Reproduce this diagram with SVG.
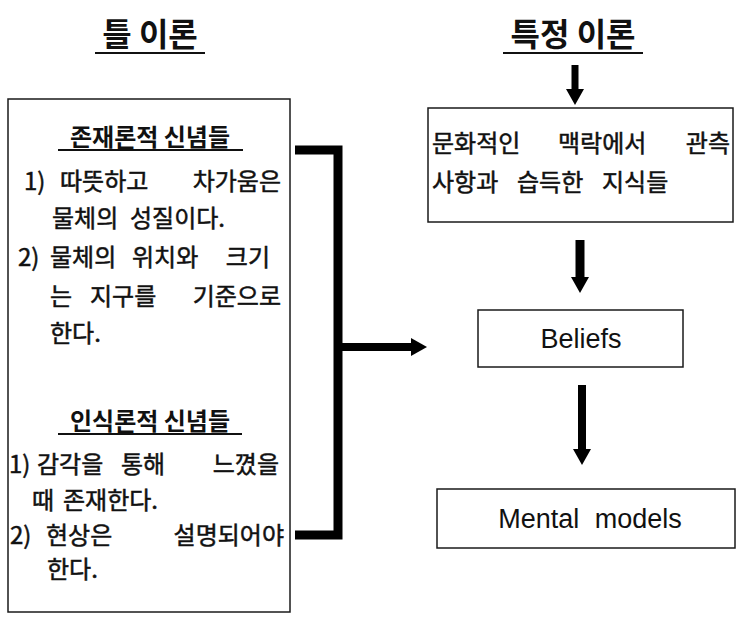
<svg xmlns="http://www.w3.org/2000/svg" width="736" height="623" viewBox="0 0 736 623">
<defs>
<style>
.box{fill:#fff;stroke:#1a1a1a;stroke-width:1.5}
.kr{font-family:"Noto Sans CJK KR","Noto Sans",sans-serif;fill:#111}
.body{font-size:24px;font-weight:normal;stroke:#111;stroke-width:0.5}
.sub{font-size:24px;font-weight:bold}
.head{font-size:32px;font-weight:bold}
.en{font-family:"Liberation Sans",Arial,sans-serif;font-size:27px;fill:#111}
.ul{stroke:#111;stroke-width:2}
.con{stroke:#000;fill:none;stroke-linejoin:miter;stroke-linecap:butt}
</style>
<marker id="ah" markerUnits="userSpaceOnUse" markerWidth="20" markerHeight="22" refX="0" refY="11" orient="auto">
<path d="M0,2 L16,11 L0,20 z" fill="#000"/>
</marker>
</defs>
<rect width="736" height="623" fill="#fff"/>

<g id="title-frame">
<text class="kr head" x="150" y="46" text-anchor="middle">틀 이론</text>
<line class="ul" x1="95" y1="53" x2="205" y2="53"/>
</g>
<g id="title-specific">
<text class="kr head" x="573" y="46" text-anchor="middle">특정 이론</text>
<line class="ul" x1="503" y1="53" x2="643" y2="53"/>
</g>

<g id="frame-beliefs">
<rect class="box" x="8" y="99" width="282" height="513"/>
<text class="kr sub" x="150" y="146" text-anchor="middle">존재론적 신념들</text>
<line class="ul" x1="58" y1="150" x2="243" y2="150"/>
<text class="kr body" y="190"><tspan x="24">1)</tspan><tspan x="60">따뜻하고</tspan></text>
<text class="kr body" x="281" y="190" text-anchor="end">차가움은</text>
<text class="kr body" y="227"><tspan x="52">물체의</tspan><tspan x="130">성질이다.</tspan></text>
<text class="kr body" y="266"><tspan x="18">2)</tspan><tspan x="50">물체의</tspan><tspan x="132">위치와</tspan></text>
<text class="kr body" x="270" y="266" text-anchor="end">크기</text>
<text class="kr body" y="305"><tspan x="50">는</tspan><tspan x="90">지구를</tspan></text>
<text class="kr body" x="281" y="305" text-anchor="end">기준으로</text>
<text class="kr body" x="50" y="342">한다.</text>

<text class="kr sub" x="150" y="430" text-anchor="middle">인식론적 신념들</text>
<line class="ul" x1="58" y1="434" x2="242" y2="434"/>
<text class="kr body" y="473"><tspan x="9">1)</tspan><tspan x="37">감각을</tspan><tspan x="121">통해</tspan></text>
<text class="kr body" x="279" y="473" text-anchor="end">느꼈을</text>
<text class="kr body" y="509"><tspan x="32">때</tspan><tspan x="63">존재한다.</tspan></text>
<text class="kr body" y="544"><tspan x="10">2)</tspan><tspan x="46">현상은</tspan></text>
<text class="kr body" x="284" y="544" text-anchor="end">설명되어야</text>
<text class="kr body" x="47" y="578">한다.</text>
</g>

<g id="cultural-knowledge">
<rect class="box" x="428" y="108" width="305" height="114"/>
<text class="kr body" y="152"><tspan x="432">문화적인</tspan><tspan x="558">맥락에서</tspan></text>
<text class="kr body" x="730" y="152" text-anchor="end">관측</text>
<text class="kr body" y="191"><tspan x="432">사항과</tspan><tspan x="517">습득한</tspan><tspan x="602">지식들</tspan></text>
</g>

<g id="beliefs">
<rect class="box" x="478" y="310" width="205" height="57"/>
<text class="en" x="581" y="348" text-anchor="middle">Beliefs</text>
</g>

<g id="mental-models">
<rect class="box" x="437" y="489" width="298" height="59"/>
<text class="en" x="590" y="528" text-anchor="middle" word-spacing="8">Mental models</text>
</g>

<g id="connectors">
<path class="con" d="M295,150 H338 V535 H295" stroke-width="9"/>
<line class="con" x1="338" y1="347" x2="411" y2="347" stroke-width="8" marker-end="url(#ah)"/>
<line class="con" x1="575" y1="65" x2="575" y2="89" stroke-width="7" marker-end="url(#ah)"/>
<line class="con" x1="580" y1="240" x2="580" y2="277" stroke-width="9" marker-end="url(#ah)"/>
<line class="con" x1="582" y1="385" x2="582" y2="449" stroke-width="8" marker-end="url(#ah)"/>
</g>
</svg>
